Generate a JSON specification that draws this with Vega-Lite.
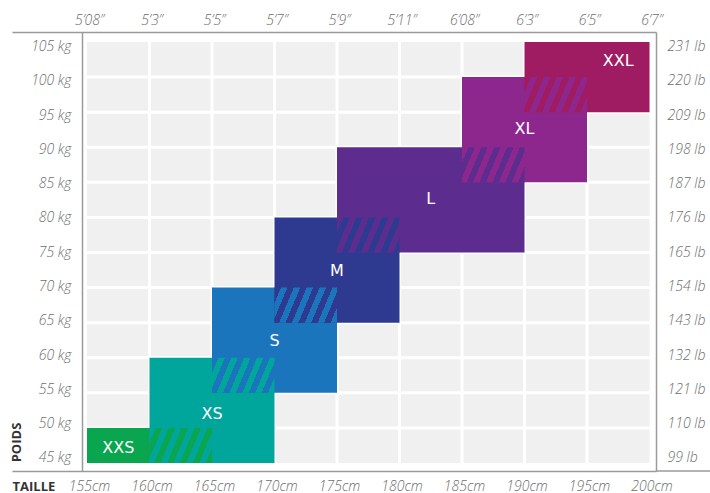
{
  "$schema": "https://vega.github.io/schema/vega-lite/v6.json",
  "width": 644,
  "height": 439,
  "autosize": "none",
  "padding": {"left": 12, "top": 32, "right": 54, "bottom": 22},
  "config": {
    "view": {"stroke": null},
    "axis": {
      "domainColor": "#9a9a9a",
      "domainWidth": 1.5,
      "ticks": false,
      "grid": false,
      "labelFont": "Open Sans",
      "labelFontStyle": "italic",
      "labelFontWeight": 300,
      "labelFontSize": 14,
      "labelColor": "#6d6d6d",
      "labelFlush": false,
      "labelOverlap": false,
      "titleFont": "Open Sans",
      "titleFontWeight": "bold",
      "titleFontSize": 13,
      "titleColor": "#333333",
      "zindex": 1
    }
  },
  "datasets": {
    "sizes": [
      {"size": "XXS", "x0": 155, "x1": 165, "y0": 45, "y1": 50, "lx": 157.5, "ly": 47.2},
      {"size": "XS", "x0": 160, "x1": 170, "y0": 45, "y1": 60, "lx": 165, "ly": 52.0},
      {"size": "S", "x0": 165, "x1": 175, "y0": 55, "y1": 70, "lx": 170, "ly": 62.4},
      {"size": "M", "x0": 170, "x1": 180, "y0": 65, "y1": 80, "lx": 175, "ly": 72.4},
      {"size": "L", "x0": 175, "x1": 190, "y0": 75, "y1": 90, "lx": 182.5, "ly": 82.6},
      {"size": "XL", "x0": 185, "x1": 195, "y0": 85, "y1": 100, "lx": 190, "ly": 92.6},
      {"size": "XXL", "x0": 190, "x1": 200, "y0": 95, "y1": 105, "lx": 197.5, "ly": 102.3}
    ],
    "overlaps": [
      {"pair": "XXS/XS", "x0": 160, "x1": 165, "y0": 45, "y1": 50},
      {"pair": "XS/S", "x0": 165, "x1": 170, "y0": 55, "y1": 60},
      {"pair": "S/M", "x0": 170, "x1": 175, "y0": 65, "y1": 70},
      {"pair": "M/L", "x0": 175, "x1": 180, "y0": 75, "y1": 80},
      {"pair": "L/XL", "x0": 185, "x1": 190, "y0": 85, "y1": 90},
      {"pair": "XL/XXL", "x0": 190, "x1": 195, "y0": 95, "y1": 100}
    ],
    "vgrid": [{"cm": 160}, {"cm": 165}, {"cm": 170}, {"cm": 175}, {"cm": 180}, {"cm": 185}, {"cm": 190}, {"cm": 195}],
    "hgrid": [{"kg": 50}, {"kg": 55}, {"kg": 60}, {"kg": 65}, {"kg": 70}, {"kg": 75}, {"kg": 80}, {"kg": 85}, {"kg": 90}, {"kg": 95}, {"kg": 100}],
    "board": [{"x0": 155, "x1": 200, "y0": 45, "y1": 105}],
    "ends": [{"cm": 155, "kg": 45}, {"cm": 200, "kg": 105}]
  },
  "layer": [
    {
      "layer": [
        {
          "data": {"name": "board"},
          "mark": {"type": "rect", "fill": "#f0f0f0"},
          "encoding": {
            "x": {"field": "x0", "type": "quantitative", "scale": {"domain": [149, 200.52], "nice": false, "zero": false}, "axis": null},
            "x2": {"field": "x1"},
            "y": {"field": "y0", "type": "quantitative", "scale": {"domain": [43.86, 106.43], "nice": false, "zero": false}, "axis": null},
            "y2": {"field": "y1"}
          }
        },
        {
          "data": {"name": "vgrid"},
          "mark": {"type": "rule", "color": "#ffffff", "strokeWidth": 3},
          "encoding": {
            "x": {"field": "cm", "type": "quantitative", "scale": {"domain": [149, 200.52], "nice": false, "zero": false}, "axis": null},
            "y": {"datum": 45, "type": "quantitative", "scale": {"domain": [43.86, 106.43], "nice": false, "zero": false}, "axis": null},
            "y2": {"datum": 105}
          }
        },
        {
          "data": {"name": "hgrid"},
          "mark": {"type": "rule", "color": "#ffffff", "strokeWidth": 3},
          "encoding": {
            "y": {"field": "kg", "type": "quantitative", "scale": {"domain": [43.86, 106.43], "nice": false, "zero": false}, "axis": null},
            "x": {"datum": 155, "type": "quantitative", "scale": {"domain": [149, 200.52], "nice": false, "zero": false}, "axis": null},
            "x2": {"datum": 200}
          }
        },
        {
          "data": {"name": "sizes"},
          "mark": {"type": "rect"},
          "encoding": {
            "x": {"field": "x0", "type": "quantitative", "scale": {"domain": [149, 200.52], "nice": false, "zero": false}, "axis": null},
            "x2": {"field": "x1"},
            "y": {"field": "y0", "type": "quantitative", "scale": {"domain": [43.86, 106.43], "nice": false, "zero": false}, "axis": null},
            "y2": {"field": "y1"},
            "color": {
              "field": "size", "type": "nominal", "legend": null,
              "scale": {"domain": ["XXS", "XS", "S", "M", "L", "XL", "XXL"], "range": ["#0aa64f", "#00a59b", "#1b75bc", "#2e3a8f", "#5c2d8f", "#8e278d", "#a01c62"]}
            }
          }
        },
        {
          "data": {"name": "overlaps"},
          "transform": [{"filter": "datum.pair == 'XXS/XS'"}],
          "mark": {"type": "rect", "fill": {"gradient": "linear", "x1": 0, "y1": 0, "x2": 1.171, "y2": 0.276, "stops": [
            {"offset": 0, "color": "#00a59b"}, {"offset": 0.0833, "color": "#00a59b"}, {"offset": 0.0833, "color": "#0aa64f"}, {"offset": 0.1667, "color": "#0aa64f"},
            {"offset": 0.1667, "color": "#00a59b"}, {"offset": 0.25, "color": "#00a59b"}, {"offset": 0.25, "color": "#0aa64f"}, {"offset": 0.3333, "color": "#0aa64f"},
            {"offset": 0.3333, "color": "#00a59b"}, {"offset": 0.4167, "color": "#00a59b"}, {"offset": 0.4167, "color": "#0aa64f"}, {"offset": 0.5, "color": "#0aa64f"},
            {"offset": 0.5, "color": "#00a59b"}, {"offset": 0.5833, "color": "#00a59b"}, {"offset": 0.5833, "color": "#0aa64f"}, {"offset": 0.6667, "color": "#0aa64f"},
            {"offset": 0.6667, "color": "#00a59b"}, {"offset": 0.75, "color": "#00a59b"}, {"offset": 0.75, "color": "#0aa64f"}, {"offset": 0.8333, "color": "#0aa64f"},
            {"offset": 0.8333, "color": "#00a59b"}, {"offset": 0.9167, "color": "#00a59b"}, {"offset": 0.9167, "color": "#0aa64f"}, {"offset": 1, "color": "#0aa64f"}
          ]}},
          "encoding": {
            "x": {"field": "x0", "type": "quantitative", "scale": {"domain": [149, 200.52], "nice": false, "zero": false}, "axis": null},
            "x2": {"field": "x1"},
            "y": {"field": "y0", "type": "quantitative", "scale": {"domain": [43.86, 106.43], "nice": false, "zero": false}, "axis": null},
            "y2": {"field": "y1"}
          }
        },
        {
          "data": {"name": "overlaps"},
          "transform": [{"filter": "datum.pair == 'XS/S'"}],
          "mark": {"type": "rect", "fill": {"gradient": "linear", "x1": 0, "y1": 0, "x2": 1.171, "y2": 0.276, "stops": [
            {"offset": 0, "color": "#1b75bc"}, {"offset": 0.0833, "color": "#1b75bc"}, {"offset": 0.0833, "color": "#00a59b"}, {"offset": 0.1667, "color": "#00a59b"},
            {"offset": 0.1667, "color": "#1b75bc"}, {"offset": 0.25, "color": "#1b75bc"}, {"offset": 0.25, "color": "#00a59b"}, {"offset": 0.3333, "color": "#00a59b"},
            {"offset": 0.3333, "color": "#1b75bc"}, {"offset": 0.4167, "color": "#1b75bc"}, {"offset": 0.4167, "color": "#00a59b"}, {"offset": 0.5, "color": "#00a59b"},
            {"offset": 0.5, "color": "#1b75bc"}, {"offset": 0.5833, "color": "#1b75bc"}, {"offset": 0.5833, "color": "#00a59b"}, {"offset": 0.6667, "color": "#00a59b"},
            {"offset": 0.6667, "color": "#1b75bc"}, {"offset": 0.75, "color": "#1b75bc"}, {"offset": 0.75, "color": "#00a59b"}, {"offset": 0.8333, "color": "#00a59b"},
            {"offset": 0.8333, "color": "#1b75bc"}, {"offset": 0.9167, "color": "#1b75bc"}, {"offset": 0.9167, "color": "#00a59b"}, {"offset": 1, "color": "#00a59b"}
          ]}},
          "encoding": {
            "x": {"field": "x0", "type": "quantitative", "scale": {"domain": [149, 200.52], "nice": false, "zero": false}, "axis": null},
            "x2": {"field": "x1"},
            "y": {"field": "y0", "type": "quantitative", "scale": {"domain": [43.86, 106.43], "nice": false, "zero": false}, "axis": null},
            "y2": {"field": "y1"}
          }
        },
        {
          "data": {"name": "overlaps"},
          "transform": [{"filter": "datum.pair == 'S/M'"}],
          "mark": {"type": "rect", "fill": {"gradient": "linear", "x1": 0, "y1": 0, "x2": 1.171, "y2": 0.276, "stops": [
            {"offset": 0, "color": "#2e3a8f"}, {"offset": 0.0833, "color": "#2e3a8f"}, {"offset": 0.0833, "color": "#1b75bc"}, {"offset": 0.1667, "color": "#1b75bc"},
            {"offset": 0.1667, "color": "#2e3a8f"}, {"offset": 0.25, "color": "#2e3a8f"}, {"offset": 0.25, "color": "#1b75bc"}, {"offset": 0.3333, "color": "#1b75bc"},
            {"offset": 0.3333, "color": "#2e3a8f"}, {"offset": 0.4167, "color": "#2e3a8f"}, {"offset": 0.4167, "color": "#1b75bc"}, {"offset": 0.5, "color": "#1b75bc"},
            {"offset": 0.5, "color": "#2e3a8f"}, {"offset": 0.5833, "color": "#2e3a8f"}, {"offset": 0.5833, "color": "#1b75bc"}, {"offset": 0.6667, "color": "#1b75bc"},
            {"offset": 0.6667, "color": "#2e3a8f"}, {"offset": 0.75, "color": "#2e3a8f"}, {"offset": 0.75, "color": "#1b75bc"}, {"offset": 0.8333, "color": "#1b75bc"},
            {"offset": 0.8333, "color": "#2e3a8f"}, {"offset": 0.9167, "color": "#2e3a8f"}, {"offset": 0.9167, "color": "#1b75bc"}, {"offset": 1, "color": "#1b75bc"}
          ]}},
          "encoding": {
            "x": {"field": "x0", "type": "quantitative", "scale": {"domain": [149, 200.52], "nice": false, "zero": false}, "axis": null},
            "x2": {"field": "x1"},
            "y": {"field": "y0", "type": "quantitative", "scale": {"domain": [43.86, 106.43], "nice": false, "zero": false}, "axis": null},
            "y2": {"field": "y1"}
          }
        },
        {
          "data": {"name": "overlaps"},
          "transform": [{"filter": "datum.pair == 'M/L'"}],
          "mark": {"type": "rect", "fill": {"gradient": "linear", "x1": 0, "y1": 0, "x2": 1.171, "y2": 0.276, "stops": [
            {"offset": 0, "color": "#5c2d8f"}, {"offset": 0.0833, "color": "#5c2d8f"}, {"offset": 0.0833, "color": "#2e3a8f"}, {"offset": 0.1667, "color": "#2e3a8f"},
            {"offset": 0.1667, "color": "#5c2d8f"}, {"offset": 0.25, "color": "#5c2d8f"}, {"offset": 0.25, "color": "#2e3a8f"}, {"offset": 0.3333, "color": "#2e3a8f"},
            {"offset": 0.3333, "color": "#5c2d8f"}, {"offset": 0.4167, "color": "#5c2d8f"}, {"offset": 0.4167, "color": "#2e3a8f"}, {"offset": 0.5, "color": "#2e3a8f"},
            {"offset": 0.5, "color": "#5c2d8f"}, {"offset": 0.5833, "color": "#5c2d8f"}, {"offset": 0.5833, "color": "#2e3a8f"}, {"offset": 0.6667, "color": "#2e3a8f"},
            {"offset": 0.6667, "color": "#5c2d8f"}, {"offset": 0.75, "color": "#5c2d8f"}, {"offset": 0.75, "color": "#2e3a8f"}, {"offset": 0.8333, "color": "#2e3a8f"},
            {"offset": 0.8333, "color": "#5c2d8f"}, {"offset": 0.9167, "color": "#5c2d8f"}, {"offset": 0.9167, "color": "#2e3a8f"}, {"offset": 1, "color": "#2e3a8f"}
          ]}},
          "encoding": {
            "x": {"field": "x0", "type": "quantitative", "scale": {"domain": [149, 200.52], "nice": false, "zero": false}, "axis": null},
            "x2": {"field": "x1"},
            "y": {"field": "y0", "type": "quantitative", "scale": {"domain": [43.86, 106.43], "nice": false, "zero": false}, "axis": null},
            "y2": {"field": "y1"}
          }
        },
        {
          "data": {"name": "overlaps"},
          "transform": [{"filter": "datum.pair == 'L/XL'"}],
          "mark": {"type": "rect", "fill": {"gradient": "linear", "x1": 0, "y1": 0, "x2": 1.171, "y2": 0.276, "stops": [
            {"offset": 0, "color": "#8e278d"}, {"offset": 0.0833, "color": "#8e278d"}, {"offset": 0.0833, "color": "#5c2d8f"}, {"offset": 0.1667, "color": "#5c2d8f"},
            {"offset": 0.1667, "color": "#8e278d"}, {"offset": 0.25, "color": "#8e278d"}, {"offset": 0.25, "color": "#5c2d8f"}, {"offset": 0.3333, "color": "#5c2d8f"},
            {"offset": 0.3333, "color": "#8e278d"}, {"offset": 0.4167, "color": "#8e278d"}, {"offset": 0.4167, "color": "#5c2d8f"}, {"offset": 0.5, "color": "#5c2d8f"},
            {"offset": 0.5, "color": "#8e278d"}, {"offset": 0.5833, "color": "#8e278d"}, {"offset": 0.5833, "color": "#5c2d8f"}, {"offset": 0.6667, "color": "#5c2d8f"},
            {"offset": 0.6667, "color": "#8e278d"}, {"offset": 0.75, "color": "#8e278d"}, {"offset": 0.75, "color": "#5c2d8f"}, {"offset": 0.8333, "color": "#5c2d8f"},
            {"offset": 0.8333, "color": "#8e278d"}, {"offset": 0.9167, "color": "#8e278d"}, {"offset": 0.9167, "color": "#5c2d8f"}, {"offset": 1, "color": "#5c2d8f"}
          ]}},
          "encoding": {
            "x": {"field": "x0", "type": "quantitative", "scale": {"domain": [149, 200.52], "nice": false, "zero": false}, "axis": null},
            "x2": {"field": "x1"},
            "y": {"field": "y0", "type": "quantitative", "scale": {"domain": [43.86, 106.43], "nice": false, "zero": false}, "axis": null},
            "y2": {"field": "y1"}
          }
        },
        {
          "data": {"name": "overlaps"},
          "transform": [{"filter": "datum.pair == 'XL/XXL'"}],
          "mark": {"type": "rect", "fill": {"gradient": "linear", "x1": 0, "y1": 0, "x2": 1.171, "y2": 0.276, "stops": [
            {"offset": 0, "color": "#a01c62"}, {"offset": 0.0833, "color": "#a01c62"}, {"offset": 0.0833, "color": "#8e278d"}, {"offset": 0.1667, "color": "#8e278d"},
            {"offset": 0.1667, "color": "#a01c62"}, {"offset": 0.25, "color": "#a01c62"}, {"offset": 0.25, "color": "#8e278d"}, {"offset": 0.3333, "color": "#8e278d"},
            {"offset": 0.3333, "color": "#a01c62"}, {"offset": 0.4167, "color": "#a01c62"}, {"offset": 0.4167, "color": "#8e278d"}, {"offset": 0.5, "color": "#8e278d"},
            {"offset": 0.5, "color": "#a01c62"}, {"offset": 0.5833, "color": "#a01c62"}, {"offset": 0.5833, "color": "#8e278d"}, {"offset": 0.6667, "color": "#8e278d"},
            {"offset": 0.6667, "color": "#a01c62"}, {"offset": 0.75, "color": "#a01c62"}, {"offset": 0.75, "color": "#8e278d"}, {"offset": 0.8333, "color": "#8e278d"},
            {"offset": 0.8333, "color": "#a01c62"}, {"offset": 0.9167, "color": "#a01c62"}, {"offset": 0.9167, "color": "#8e278d"}, {"offset": 1, "color": "#8e278d"}
          ]}},
          "encoding": {
            "x": {"field": "x0", "type": "quantitative", "scale": {"domain": [149, 200.52], "nice": false, "zero": false}, "axis": null},
            "x2": {"field": "x1"},
            "y": {"field": "y0", "type": "quantitative", "scale": {"domain": [43.86, 106.43], "nice": false, "zero": false}, "axis": null},
            "y2": {"field": "y1"}
          }
        },
        {
          "data": {"name": "sizes"},
          "mark": {"type": "text", "color": "#ffffff", "font": "DejaVu Sans", "fontSize": 16, "align": "center", "baseline": "middle"},
          "encoding": {
            "x": {"field": "lx", "type": "quantitative", "scale": {"domain": [149, 200.52], "nice": false, "zero": false}, "axis": null},
            "y": {"field": "ly", "type": "quantitative", "scale": {"domain": [43.86, 106.43], "nice": false, "zero": false}, "axis": null},
            "text": {"field": "size"}
          }
        },
        {
          "data": {"values": [{"a": 1}]},
          "mark": {"type": "rule", "color": "#9a9a9a", "strokeWidth": 1.5},
          "encoding": {
            "x": {"datum": 200.52, "type": "quantitative", "scale": {"domain": [149, 200.52], "nice": false, "zero": false}, "axis": null},
            "x2": {"datum": 205},
            "y": {"datum": 43.86, "type": "quantitative", "scale": {"domain": [43.86, 106.43], "nice": false, "zero": false}, "axis": null}
          }
        }
      ]
    },
    {
      "data": {"name": "ends"},
      "mark": {"type": "point", "opacity": 0},
      "encoding": {
        "x": {
          "field": "cm", "type": "quantitative",
          "scale": {"domain": [149, 200.52], "nice": false, "zero": false},
          "axis": {
            "orient": "top", "title": null,
            "values": [155, 160, 165, 170, 175, 180, 185, 190, 195, 200],
            "labelPadding": 5, "labelOffset": 2,
            "labelExpr": "['5’08”','5’3”','5’5”','5’7”','5’9”','5’11”','6’08”','6’3”','6’5”','6’7”'][round((datum.value - 155) / 5)]"
          }
        },
        "y": {
          "field": "kg", "type": "quantitative",
          "scale": {"domain": [43.10, 107.11], "nice": false, "zero": false},
          "axis": {
            "orient": "left", "offset": -70, "labelPadding": 11,
            "values": [45, 50, 55, 60, 65, 70, 75, 80, 85, 90, 95, 100, 105],
            "labelExpr": "datum.value + ' kg'",
            "title": "POIDS", "titleAngle": 270, "titleX": -65.5, "titleY": 410,
            "titleAlign": "center", "titleBaseline": "middle"
          }
        }
      }
    },
    {
      "data": {"name": "ends"},
      "mark": {"type": "point", "opacity": 0},
      "encoding": {
        "x": {
          "field": "cm", "type": "quantitative",
          "scale": {"domain": [149, 200.52], "nice": false, "zero": false},
          "axis": {
            "orient": "bottom",
            "values": [155, 160, 165, 170, 175, 180, 185, 190, 195, 200],
            "labelPadding": 8, "labelOffset": 2,
            "labelExpr": "datum.value + 'cm'",
            "title": "TAILLE", "titleX": 0, "titleY": 15, "titleAlign": "left", "titleBaseline": "middle"
          }
        },
        "y": {
          "field": "kg", "type": "quantitative",
          "scale": {"domain": [43.10, 107.11], "nice": false, "zero": false},
          "axis": {
            "orient": "right", "labelPadding": 11, "title": null,
            "values": [45, 50, 55, 60, 65, 70, 75, 80, 85, 90, 95, 100, 105],
            "labelExpr": "['99 lb','110 lb','121 lb','132 lb','143 lb','154 lb','165 lb','176 lb','187 lb','198 lb','209 lb','220 lb','231 lb'][round((datum.value - 45) / 5)]"
          }
        }
      }
    }
  ],
  "resolve": {"scale": {"x": "independent", "y": "independent"}}
}
